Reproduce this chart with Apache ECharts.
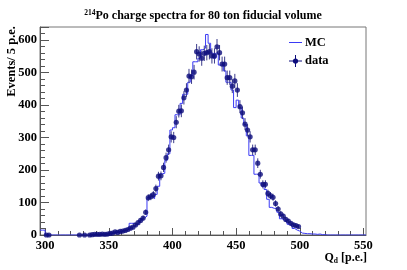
<!DOCTYPE html>
<html><head><meta charset="utf-8">
<script src="https://cdn.jsdelivr.net/npm/echarts@6/dist/echarts.min.js"></script>
<style>html,body{margin:0;padding:0;background:#fff}#c{width:407px;height:270px}</style>
</head><body><div id="c"></div>
<script>
// ---- data ----
const dataX = [301,303,327,331,335,337,339,341,343,345,347,349,351,353,355,357,359,361,363,365,367,369,371,373,375,377,379,381,383,385,387,389,391,393,395,397,399,401,403,405,407,409,411,413,415,417,419,421,423,425,427,429,431,433,435,437,439,441,443,445,447,449,451,453,455,457,459,461,463,465,467,469,471,473,475,477,479,481,483,485,487,489,491,493,495,497,499];
const dataY = [0,0,0,0,0,1,2,2,2,3,2,3,5,6,10,8,11,12,14,17,21,24,31,38,45,52,70,115,118,124,143,181,182,208,238,262,302,300,347,381,382,422,446,489,487,501,564,557,544,559,561,564,551,551,579,561,526,526,484,484,458,474,446,395,376,341,323,302,262,262,221,187,156,156,128,121,116,97,80,65,58,48,43,36,31,29,26];
// MC histogram: left bin edge start, bin width 2 p.e.
const mcStart = 296;
const mcBinWidth = 2;
const mcValues = [15,15,
 0,0,0,0,0,0,0,0,0,0,0,0,0,0,0,0,0,0,
 1,1,2,2,3,3,4,5,6,8,9,11,13,14,18,36,36,30,36,44,52,58,115,118,112,125,150,188,190,230,250,323,330,370,370,405,433,433,470,490,533,533,544,570,575,617,590,560,544,560,523,523,505,470,470,446,392,415,392,360,340,305,245,245,187,187,160,150,140,110,85,82,82,70,50,46,40,33,28,20,15,12,6,5,4,4,3,3,2,3,1,1,
 0,0,0,0,0,0,0,0,0,0,0,0,0,0,0,0];
const xMajorTicks = [300,350,400,450,500,550];
const xMinorTicks = [310,320,330,340,360,370,380,390,410,420,430,440,460,470,480,490,510,520,530,540];
const xMin = 296, xMax = 552, yMin = 0, yMax = 640;

// ---- build ----
const mcLine = [];
for (let i = 0; i < mcValues.length; i++) mcLine.push([mcStart + i*mcBinWidth, mcValues[i]]);
mcLine.push([mcStart + mcValues.length*mcBinWidth, mcValues[mcValues.length-1]]);
const pts = dataX.map((x,i)=>[x,dataY[i]]);

const serif = 'Liberation Serif';
const navy = '#0c0c7c';
const blue = '#3a3af5';
const chart = echarts.init(document.getElementById('c'), null, {renderer:'canvas'});
const grid = {left:40, right:41, top:27, bottom:35, containLabel:false};
const axisTxt = {fontFamily:serif, fontWeight:'bold', fontSize:12.5, color:'#000'};
chart.setOption({
  animation:false,
  backgroundColor:'#fff',
  grid: grid,
  xAxis: [{
    type:'value', min:xMin, max:xMax, position:'bottom',
    axisLine:{show:true, onZero:false, lineStyle:{color:'#555', width:1}},
    axisTick:{show:true, inside:true, length:7, customValues:xMajorTicks, lineStyle:{color:'#555'}},
    axisLabel:{customValues:xMajorTicks, margin:4, ...axisTxt},
    splitLine:{show:false}
  },{
    type:'value', min:xMin, max:xMax, position:'bottom',
    axisLine:{show:false, onZero:false},
    axisTick:{show:true, inside:true, length:4, customValues:xMinorTicks, lineStyle:{color:'#555'}},
    axisLabel:{show:false}, splitLine:{show:false}
  }],
  yAxis: [{
    type:'value', min:yMin, max:yMax, interval:100,
    axisLine:{show:true, onZero:false, lineStyle:{color:'#555', width:1}},
    axisTick:{show:true, inside:true, length:9, lineStyle:{color:'#555'}},
    minorTick:{show:true, splitNumber:5, length:5, lineStyle:{color:'#555'}},
    axisLabel:{margin:3, showMaxLabel:false, ...axisTxt, formatter:v=> v>600?'':String(v)},
    splitLine:{show:false}
  }],
  graphic: [
    {type:'rect', shape:{x:40, y:27, width:326, height:208}, style:{fill:'none', stroke:'#777', lineWidth:1}, silent:true, z:-1},
    {type:'text', x:203, y:16, style:{text:'{s|214}{m|Po charge spectra for 80 ton fiducial volume}', align:'center', verticalAlign:'middle',
      rich:{s:{fontFamily:serif, fontWeight:'bold', fontSize:7.5, verticalAlign:'top', padding:[0,0,6,0]}, m:{fontFamily:serif, fontWeight:'bold', fontSize:12}}}},
    {type:'text', x:12, y:26, rotation:Math.PI/2, style:{text:'Events/ 5 p.e.', align:'right', verticalAlign:'middle', fontFamily:serif, fontWeight:'bold', fontSize:12.5, fill:'#000'}},
    {type:'text', x:367, y:258, style:{text:'{q|Q}{d|d}{q| [p.e.]}', align:'right', verticalAlign:'middle',
      rich:{q:{fontFamily:serif, fontWeight:'bold', fontSize:12}, d:{fontFamily:serif, fontWeight:'bold', fontSize:7.5, padding:[6,0,0,0]}}}},
    // legend
    {type:'line', shape:{x1:289, y1:42.5, x2:302, y2:42.5}, style:{stroke:blue, lineWidth:1}},
    {type:'text', x:305, y:43, style:{text:'MC', align:'left', verticalAlign:'middle', fontFamily:serif, fontWeight:'bold', fontSize:12.5, fill:'#000'}},
    {type:'line', shape:{x1:289, y1:61, x2:302, y2:61}, style:{stroke:navy, lineWidth:1}},
    {type:'line', shape:{x1:295.5, y1:55, x2:295.5, y2:67}, style:{stroke:navy, lineWidth:1}},
    {type:'circle', shape:{cx:295.5, cy:61, r:2.6}, style:{fill:navy}},
    {type:'text', x:305, y:61, style:{text:'data', align:'left', verticalAlign:'middle', fontFamily:serif, fontWeight:'bold', fontSize:12.5, fill:'#000'}}
  ],
  series: [
    {type:'line', name:'MC', data:mcLine, step:'end', showSymbol:false, symbol:'none',
      lineStyle:{color:blue, width:1}, clip:true, z:2},
    {type:'custom', name:'err', data:pts, z:3, clip:true,
      renderItem:function(params, api){
        const x = api.value(0), y = api.value(1), e = Math.sqrt(y);
        if (e <= 0) return null;
        const a = api.coord([x, y-e]), b = api.coord([x, y+e]);
        return {type:'line', shape:{x1:a[0], y1:a[1], x2:b[0], y2:b[1]}, style:{stroke:'#3a3a8a', lineWidth:1}};
      }},
    {type:'scatter', name:'data', data:pts, symbol:'circle', symbolSize:5.2, itemStyle:{color:navy}, z:4}
  ]
});
</script></body></html>
